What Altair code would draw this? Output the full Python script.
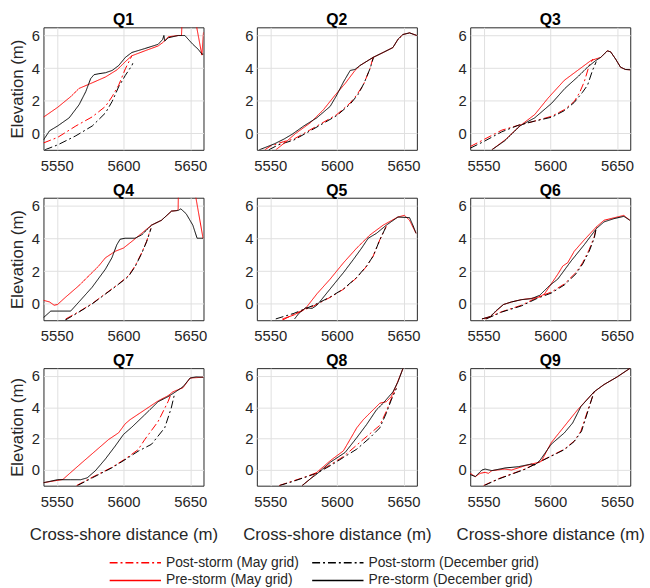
import altair as alt
import pandas as pd

# Axis ranges and ticks shared by every profile panel
X_DOMAIN = [5540, 5660]
Y_DOMAIN = [-1, 6.5]
X_TICKS = [5550, 5600, 5650]
Y_TICKS = [0, 2, 4, 6]

POST_MAY = "Post-storm (May grid)"
POST_DEC = "Post-storm (December grid)"
PRE_MAY = "Pre-storm (May grid)"
PRE_DEC = "Pre-storm (December grid)"

# Legend order (filled column by column: May grid left, December grid right)
SERIES = [POST_MAY, PRE_MAY, POST_DEC, PRE_DEC]
COLORS = ["#ff0000", "#ff0000", "#000000", "#000000"]
DASHES = [[8, 3, 2, 3], [1, 0], [8, 3, 2, 3], [1, 0]]

PROFILES = ["Q1", "Q2", "Q3", "Q4", "Q5", "Q6", "Q7", "Q8", "Q9"]

# (cross-shore distance m, elevation m)
q1_post_may = [(5540, -0.58), (5550.6, -0.24), (5564.3, 0.46), (5576.6, 1.02), (5586.5, 1.66),
               (5591.5, 2.26), (5596.4, 2.96), (5601.4, 3.96), (5606.3, 4.76)]
q1_post_dec = [(5541, -1.0), (5550.6, -0.7), (5564.3, -0.14), (5576.6, 0.46), (5586.5, 1.26),
               (5591.5, 1.96), (5596.4, 2.86), (5601.4, 3.56), (5606.3, 4.16), (5607, 4.3)]
q1_pre_may = [(5540, 1.0), (5550.6, 1.6), (5560.5, 2.26), (5566.7, 2.76), (5575.4, 3.06),
              (5586.5, 3.46), (5595.2, 3.9), (5601.4, 4.4), (5606.3, 4.76), (5616, 5.06),
              (5626, 5.36), (5630, 5.6), (5633.6, 5.92), (5641, 6.0), (5643.5, 6.0),
              (5644.5, 8.0), (5651.5, 8.0), (5658.8, 4.8), (5660, 6.2)]
q1_pre_dec = [(5540, -0.4), (5544.5, 0.16), (5550.6, 0.46), (5559.3, 0.96), (5566.7, 1.76),
              (5571.7, 2.56), (5575.4, 3.36), (5577.9, 3.6), (5581.6, 3.66), (5586.5, 3.72),
              (5591.5, 3.86), (5596.4, 4.16), (5601.4, 4.66), (5606.3, 4.96), (5616, 5.2),
              (5626, 5.46), (5629.4, 5.76), (5630.3, 6.0), (5631, 5.66), (5633.6, 5.86),
              (5641, 6.0), (5646, 6.0), (5652, 5.46), (5656, 5.16), (5658.8, 4.86), (5660, 4.86)]

q2_post_may = [(5546, -1.0), (5550, -0.78), (5560, -0.5), (5567.8, -0.34), (5585.1, 0.46),
               (5600, 1.16), (5609.9, 1.86), (5614.9, 2.36), (5619.8, 2.96), (5624.8, 3.96),
               (5627.2, 4.66)]
q2_post_dec = [(5549, -1.0), (5556, -0.7), (5567.8, -0.4), (5585.1, 0.4), (5600, 1.1),
               (5610, 1.8), (5616, 2.4), (5620.5, 3.1), (5625, 4.0), (5627.5, 4.66)]
q2_pre_may = [(5554.2, -1.0), (5562.9, -0.44), (5569, 0.0), (5580.2, 0.66), (5590, 1.46),
              (5598.8, 2.36), (5606.2, 3.06), (5613.6, 3.86), (5617.3, 4.16), (5627.2, 4.66),
              (5634.7, 4.96), (5642, 5.26), (5645.8, 5.76), (5649.5, 6.06), (5654.5, 6.16),
              (5660, 6.0)]
q2_pre_dec = [(5541.8, -1.0), (5553, -0.64), (5560.4, -0.34), (5566.6, -0.04), (5575.2, 0.46),
              (5585, 0.96), (5595, 1.66), (5600, 2.36), (5605, 3.16), (5610, 3.86),
              (5613.6, 3.92), (5617.3, 4.16), (5627.2, 4.66), (5634.7, 4.96), (5642, 5.26),
              (5645.8, 5.76), (5649.5, 6.06), (5654.5, 6.16), (5660, 6.0)]

q3_post_may = [(5540, -0.8), (5550, -0.38), (5563.6, 0.2), (5576, 0.5), (5588.4, 0.76),
               (5601.2, 1.06), (5610.6, 1.46), (5618, 1.96), (5622, 2.5), (5625.5, 3.16),
               (5629.2, 4.16), (5632, 4.56)]
q3_post_dec = [(5540, -0.9), (5550, -0.5), (5563.6, 0.1), (5576, 0.5), (5588.4, 0.76),
               (5601.2, 1.0), (5610.6, 1.4), (5618, 1.9), (5624, 2.5), (5628, 2.96),
               (5631.7, 3.86), (5634.5, 4.4)]
q3_pre_may = [(5556.2, -1.0), (5566, -0.4), (5577.2, 0.46), (5588.4, 1.16), (5598.3, 2.16),
              (5610.6, 3.26), (5620.5, 3.86), (5630.4, 4.46), (5634, 4.56), (5637.9, 4.66),
              (5642.8, 5.06), (5645.3, 5.0), (5649, 4.56), (5652.7, 4.06), (5656.4, 3.92),
              (5660, 3.9)]
q3_pre_dec = [(5556.2, -1.0), (5566, -0.44), (5577.2, 0.46), (5588.4, 0.96), (5601.2, 1.86),
              (5611, 2.76), (5620.5, 3.46), (5628, 4.06), (5634, 4.46), (5637.9, 4.66),
              (5642.8, 5.06), (5645.3, 5.0), (5649, 4.56), (5652.7, 4.06), (5656.4, 3.92),
              (5660, 3.9)]

q4_post_may = [(5556.7, -0.92), (5566.6, -0.48), (5576.5, 0.02), (5586.4, 0.62), (5596.3, 1.22),
               (5603.7, 1.72), (5608.7, 2.32), (5613.6, 3.12), (5617.3, 3.82), (5620.5, 4.62)]
q4_post_dec = [(5556.2, -1.0), (5566.6, -0.5), (5576.5, 0.0), (5586.4, 0.6), (5596.3, 1.2),
               (5603.7, 1.68), (5608.7, 2.28), (5613.6, 3.08), (5617.3, 3.8), (5620.7, 4.62)]
q4_pre_may = [(5540, 0.22), (5544.5, 0.12), (5548, -0.08), (5550.5, -0.04), (5556.7, 0.42),
              (5566.6, 1.12), (5576.5, 1.92), (5581.4, 2.32), (5586.4, 2.82), (5593.8, 3.22),
              (5600, 3.42), (5606.2, 3.82), (5613.6, 4.32), (5621, 4.82), (5628.5, 5.12),
              (5636, 5.68), (5640.3, 5.72), (5641, 5.8), (5641.5, 9.0), (5650, 8.5),
              (5659.7, 4.0)]
q4_pre_dec = [(5540, -0.84), (5545.5, -0.44), (5550.5, -0.44), (5560.4, -0.44), (5566.6, 0.12),
              (5576.5, 1.02), (5586.4, 2.12), (5591.3, 2.82), (5595, 3.62), (5597.5, 3.96),
              (5601.2, 4.02), (5608.6, 4.02), (5613.6, 4.22), (5621, 4.82), (5628.5, 5.12),
              (5636, 5.68), (5641, 5.72), (5643, 5.82), (5647, 5.52), (5652, 4.82),
              (5655.2, 4.02), (5660, 4.02)]

q5_post_may = [(5559, -1.0), (5567.8, -0.64), (5582.7, -0.12), (5595, 0.4), (5605, 0.9),
               (5614.9, 1.6), (5622.3, 2.3), (5627.2, 2.92), (5632.2, 3.92), (5637.1, 4.76)]
q5_post_dec = [(5554.2, -0.92), (5567.8, -0.58), (5582.7, -0.08), (5595, 0.42), (5605, 0.92),
               (5614.9, 1.62), (5622.3, 2.32), (5627.2, 2.92), (5632.2, 3.92), (5637.1, 4.76)]
q5_pre_may = [(5559.2, -0.92), (5567.8, -0.68), (5576.5, -0.28), (5585.1, 0.62), (5595, 1.52),
              (5605, 2.52), (5614.9, 3.42), (5624.8, 4.22), (5634.7, 4.82), (5645.8, 5.32),
              (5650.7, 5.42), (5654.5, 5.12), (5659.4, 4.32)]
q5_pre_dec = [(5568.3, -0.92), (5571.5, -0.58), (5576.5, -0.24), (5581.4, -0.28), (5585.1, -0.08),
              (5595, 0.92), (5605, 1.92), (5612.4, 2.72), (5618.6, 3.42), (5623.5, 4.02),
              (5629.7, 4.32), (5637.1, 4.82), (5645.8, 5.32), (5654.5, 5.28), (5657, 4.82),
              (5659.4, 4.32)]

q6_post_may = [(5551.2, -0.92), (5563.6, -0.48), (5578.5, -0.08), (5590.8, 0.42), (5600.7, 0.72),
               (5610.6, 1.22), (5619.3, 1.92), (5624.3, 2.52), (5629.2, 3.32), (5633, 4.12),
               (5634.7, 4.72)]
q6_post_dec = [(5552, -0.92), (5563.6, -0.5), (5578.5, -0.12), (5590.8, 0.36), (5600.7, 0.66),
               (5610.6, 1.16), (5619.3, 1.84), (5624.3, 2.44), (5629.2, 3.22), (5633, 4.02),
               (5634.7, 4.72)]
q6_pre_may = [(5548.8, -0.92), (5555, -0.78), (5564.9, -0.04), (5571, 0.12), (5578.5, 0.26),
              (5585.9, 0.34), (5592, 0.42), (5595.8, 0.62), (5600.7, 1.22), (5605.7, 1.82),
              (5609.4, 2.32), (5613.1, 2.52), (5618, 3.22), (5625.5, 3.92), (5634.7, 4.72),
              (5640.3, 5.12), (5655.2, 5.42), (5659.7, 5.12)]
q6_pre_dec = [(5548.8, -0.92), (5555, -0.78), (5559.9, -0.38), (5564.9, -0.04), (5571, 0.12),
              (5578.5, 0.26), (5585.9, 0.32), (5592, 0.52), (5599.5, 1.12), (5605.7, 1.52),
              (5615.6, 2.62), (5625.5, 3.62), (5634.7, 4.62), (5640.3, 5.02), (5647.8, 5.22),
              (5655.2, 5.36), (5659.7, 5.12)]

q7_post_may = [(5564.8, -0.99), (5576.6, -0.46), (5591.3, 0.17), (5601.2, 0.7), (5611, 1.3),
               (5616, 1.95), (5626, 3.1), (5633.4, 4.36), (5635.8, 4.89)]
q7_post_dec = [(5565.5, -0.99), (5576.6, -0.5), (5591.3, 0.14), (5601.2, 0.66), (5611, 1.2),
               (5621, 1.64), (5630.9, 2.69), (5635.8, 3.95), (5638.4, 4.89)]
q7_pre_may = [(5540, -0.81), (5554.6, -0.6), (5559.2, -0.25), (5569.1, 0.49), (5579, 1.22),
              (5588.9, 1.95), (5596.3, 2.37), (5601.2, 2.94), (5604.9, 3.21), (5616, 3.84),
              (5626, 4.41), (5633.4, 4.74), (5637.1, 4.99), (5644.6, 5.25), (5650, 5.87),
              (5660, 5.92)]
q7_pre_dec = [(5540, -0.81), (5550.5, -0.62), (5560.4, -0.62), (5567.8, -0.62), (5572.8, -0.5),
              (5579, -0.04), (5586.4, 0.7), (5593.8, 1.53), (5600, 2.27), (5606.2, 2.73),
              (5616, 3.53), (5626, 4.36), (5633.4, 4.68), (5638.4, 4.95), (5644.6, 5.31),
              (5650, 5.87), (5654.5, 5.94), (5660, 5.92)]

q8_post_may = [(5556.7, -0.99), (5567.8, -0.68), (5577.7, -0.4), (5585.1, -0.16), (5595, 0.33),
               (5604.9, 0.86), (5609.9, 1.22), (5619.8, 1.95), (5632.2, 2.85), (5637.1, 3.75),
               (5640.8, 4.55), (5644.6, 5.2)]
q8_post_dec = [(5557, -0.99), (5567.8, -0.71), (5577.7, -0.42), (5585.1, -0.2), (5595, 0.27),
               (5604.9, 0.8), (5614.9, 1.33), (5624.8, 2.06), (5632.2, 2.69), (5637.1, 3.63),
               (5640.8, 4.47), (5644.6, 5.2)]
q8_pre_may = [(5574, -0.99), (5580.2, -0.56), (5585.1, -0.14), (5595, 0.59), (5604.9, 1.22),
              (5609.9, 1.95), (5614.9, 2.69), (5619.8, 3.21), (5627.2, 3.84), (5632.2, 4.26),
              (5637.1, 4.36), (5640.8, 4.68), (5644.6, 5.41), (5649.5, 6.46)]
q8_pre_dec = [(5574, -0.99), (5580.2, -0.56), (5585.1, -0.25), (5595, 0.49), (5606.2, 1.12),
              (5614.9, 2.06), (5622.3, 2.9), (5629.7, 3.84), (5634.7, 4.26), (5642.1, 4.99),
              (5645.8, 5.62), (5649.5, 6.46)]

q9_post_may = [(5550, -0.99), (5561.1, -0.56), (5571, -0.25), (5580.9, 0.06), (5590.8, 0.48),
               (5600.7, 0.9), (5610.6, 1.33), (5618, 1.85), (5623, 2.48), (5627.9, 3.74),
               (5631.7, 4.68), (5632.9, 4.99)]
q9_post_dec = [(5550.5, -0.99), (5561.1, -0.58), (5571, -0.27), (5580.9, 0.04), (5590.8, 0.46),
               (5600.7, 0.88), (5610.6, 1.3), (5618, 1.82), (5623.5, 2.48), (5628.2, 3.74),
               (5631.7, 4.68), (5632.9, 4.99)]
q9_pre_may = [(5540, -0.21), (5543.8, -0.42), (5547.5, -0.21), (5551.2, -0.15), (5553.7, -0.21),
              (5556.2, -0.04), (5566, 0.06), (5571, 0.0), (5581, 0.27), (5590.8, 0.48),
              (5593.3, 0.55), (5600.7, 1.74), (5610.6, 2.79), (5620.5, 3.84), (5632.9, 4.99),
              (5640.3, 5.45), (5650.2, 5.94), (5660, 6.5)]
q9_pre_dec = [(5540, -0.29), (5543.8, -0.42), (5548.8, 0.0), (5551.2, 0.06), (5556.2, -0.04),
              (5566.1, 0.13), (5576, 0.21), (5585.9, 0.38), (5588.4, 0.32), (5592.1, 0.59),
              (5600.7, 1.64), (5610.6, 2.37), (5616.8, 3.0), (5623, 4.05), (5632.9, 4.99),
              (5640.3, 5.45), (5650.2, 5.94), (5660, 6.5)]

LINE_NAMES = [POST_MAY, POST_DEC, PRE_MAY, PRE_DEC]
profile_series = {
    "Q1": [q1_post_may, q1_post_dec, q1_pre_may, q1_pre_dec],
    "Q2": [q2_post_may, q2_post_dec, q2_pre_may, q2_pre_dec],
    "Q3": [q3_post_may, q3_post_dec, q3_pre_may, q3_pre_dec],
    "Q4": [q4_post_may, q4_post_dec, q4_pre_may, q4_pre_dec],
    "Q5": [q5_post_may, q5_post_dec, q5_pre_may, q5_pre_dec],
    "Q6": [q6_post_may, q6_post_dec, q6_pre_may, q6_pre_dec],
    "Q7": [q7_post_may, q7_post_dec, q7_pre_may, q7_pre_dec],
    "Q8": [q8_post_may, q8_post_dec, q8_pre_may, q8_pre_dec],
    "Q9": [q9_post_may, q9_post_dec, q9_pre_may, q9_pre_dec],
}

rows = []
for prof, lines in profile_series.items():
    for name, pts in zip(LINE_NAMES, lines):
        for i, (x, y) in enumerate(pts):
            rows.append({"profile": prof, "series": name, "i": i, "x": x, "y": y})
df = pd.DataFrame(rows)

FONT = "Liberation Sans"
TEXT = "#262626"

legend = alt.Legend(
    orient="none", legendX=66, legendY=535, columns=2, direction="vertical", title=None,
    symbolType="stroke", symbolSize=2700, symbolStrokeWidth=1.5, symbolOpacity=1,
    clipHeight=14,
    labelFont=FONT, labelFontSize=14, labelColor=TEXT, labelOffset=4, labelLimit=0,
    columnPadding=12, rowPadding=4,
)


def panel(prof, r, c):
    xaxis = dict(values=X_TICKS, format="d")
    yaxis = dict(values=Y_TICKS, format="d")
    xaxis["title"] = "Cross-shore distance (m)" if r == 2 else ""
    yaxis["title"] = "Elevation (m)" if c == 0 else ""
    h = 119 if r == 2 else 124
    return (
        alt.Chart(df[df.profile == prof])
        .mark_line(clip=True, strokeWidth=1)
        .encode(
            x=alt.X("x:Q", scale=alt.Scale(domain=X_DOMAIN, nice=False, zero=False),
                    axis=alt.Axis(**xaxis)),
            y=alt.Y("y:Q", scale=alt.Scale(domain=Y_DOMAIN, nice=False, zero=False),
                    axis=alt.Axis(**yaxis)),
            color=alt.Color("series:N", scale=alt.Scale(domain=SERIES, range=COLORS),
                            legend=legend),
            strokeDash=alt.StrokeDash("series:N", scale=alt.Scale(domain=SERIES, range=DASHES),
                                      legend=legend),
            detail="series:N",
            order="i:Q",
        )
        .properties(width=162, height=h, title=prof)
    )


panels = [panel(p, k // 3, k % 3) for k, p in enumerate(PROFILES)]

chart = (
    alt.concat(*panels, columns=3, spacing={"row": 48.5, "column": 54}, bounds="flush")
    .properties(padding={"left": 8, "top": 8, "right": 5, "bottom": 5}, background="white")
    .configure_view(stroke=TEXT, strokeWidth=1)
    .configure_axis(
        grid=True, gridColor="#e0e0e0", gridWidth=1, domain=False, ticks=False,
        labelFont=FONT, labelFontSize=15, labelColor=TEXT,
        titleFont=FONT, titleFontSize=17, titleFontWeight="normal", titleColor=TEXT,
    )
    .configure_axisX(labelPadding=9, titlePadding=17)
    .configure_axisY(labelPadding=4, titlePadding=5)
    .configure_title(font=FONT, fontSize=16, fontWeight="bold", color="#000000", offset=-1)
)

chart.save("out.html", embed_options={"renderer": "svg", "actions": False})
